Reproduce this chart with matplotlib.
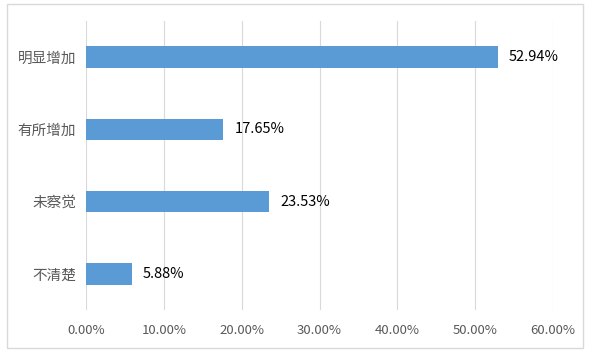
import matplotlib
matplotlib.use("Agg")
import matplotlib.pyplot as plt
from matplotlib.patches import Rectangle
from matplotlib.ticker import FuncFormatter

plt.rcParams['font.family'] = ['Noto Sans CJK SC', 'DejaVu Sans']

categories = ["明显增加", "有所增加", "未察觉", "不清楚"]
values = [52.94, 17.65, 23.53, 5.88]
xticks = [0, 10, 20, 30, 40, 50, 60]

fig = plt.figure(figsize=(5.9, 3.57), dpi=100)
ax = fig.add_axes([0.1458, 0.1317, 0.7915, 0.8095])

y = list(range(len(categories)))[::-1]
ax.barh(y, values, height=0.3, color="#5B9BD5", zorder=3)
for yi, v in zip(y, values):
    ax.text(v + 1.4, yi, f"{v:.2f}%", va="center", ha="left", fontsize=10.5, color="#000000")

ax.set_xlim(0, 60)
ax.set_ylim(-0.5, len(categories) - 0.5)
ax.set_xticks(xticks)
ax.xaxis.set_major_formatter(FuncFormatter(lambda v, p: f"{v:.2f}%"))
ax.set_yticks(y)
ax.set_yticklabels(categories)
ax.tick_params(axis="both", length=0, labelcolor="#595959")
ax.tick_params(axis="x", pad=10, labelsize=9.5)
ax.tick_params(axis="y", pad=7, labelsize=10.5)
ax.grid(axis="x", color="#D9D9D9", lw=0.8, zorder=0)
for s in ax.spines.values():
    s.set_visible(False)

fig.patches.append(Rectangle((0.012, 0.025), 0.976, 0.965, transform=fig.transFigure,
                             fill=False, edgecolor="#D9D9D9", lw=1))

fig.savefig("out.png", dpi=100)
